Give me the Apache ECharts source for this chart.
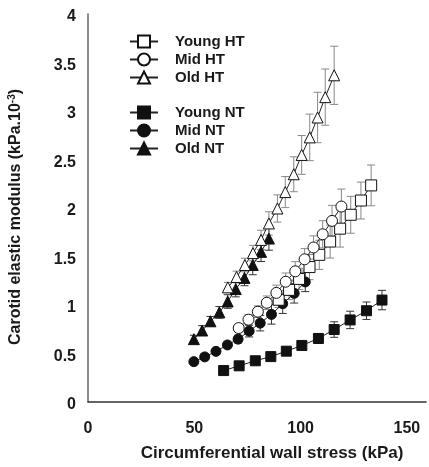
<!DOCTYPE html>
<html><head><meta charset="utf-8">
<script src="https://cdn.jsdelivr.net/npm/echarts@6/dist/echarts.min.js"></script>
<style>html,body{margin:0;padding:0;background:#fff}#c{width:429px;height:467px}</style>
</head><body><div id="c"></div>
<script>
// X tick labels shown
const xTickLabels = [0, 50, 100, 150];

// Young NT
const youngNTx = [63.8, 71.1, 78.7, 86.0, 93.3, 100.6, 108.4, 115.8, 123.3, 131.0, 138.3];
const youngNTy = [0.324, 0.373, 0.425, 0.468, 0.524, 0.583, 0.655, 0.747, 0.846, 0.941, 1.051];
const youngNTe = [0.02, 0.02, 0.02, 0.03, 0.03, 0.04, 0.05, 0.08, 0.09, 0.09, 0.10];

// Mid NT
const midNTx = [49.8, 54.9, 60.2, 65.6, 70.6, 75.8, 81.0, 86.3, 91.6, 97.0, 102.2];
const midNTy = [0.416, 0.465, 0.522, 0.588, 0.648, 0.731, 0.813, 0.903, 1.013, 1.120, 1.238];
const midNTe = [0.02, 0.02, 0.03, 0.03, 0.04, 0.06, 0.08, 0.10, 0.10, 0.10, 0.10];

// Old NT
const oldNTx = [49.8, 53.7, 57.6, 61.8, 65.7, 69.5, 73.6, 77.5, 81.4, 85.1];
const oldNTy = [0.648, 0.737, 0.832, 0.924, 1.036, 1.164, 1.279, 1.412, 1.548, 1.685];
const oldNTe = [0.04, 0.05, 0.05, 0.06, 0.07, 0.08, 0.08, 0.10, 0.10, 0.12];

// Young HT
const youngHTx = [89.7, 94.6, 99.3, 104.2, 108.8, 113.9, 118.6, 123.6, 128.4, 133.2];
const youngHTy = [1.054, 1.156, 1.269, 1.391, 1.517, 1.654, 1.787, 1.930, 2.077, 2.233];
const youngHTe = [0.08, 0.10, 0.11, 0.13, 0.15, 0.17, 0.19, 0.19, 0.19, 0.21];

// Mid HT
const midHTx = [70.9, 75.5, 79.9, 84.1, 88.6, 93.0, 97.5, 101.9, 106.1, 110.4, 114.8, 119.2];
const midHTy = [0.762, 0.849, 0.931, 1.023, 1.125, 1.240, 1.347, 1.471, 1.593, 1.729, 1.867, 2.015];
const midHTe = [0.04, 0.05, 0.06, 0.07, 0.08, 0.09, 0.10, 0.11, 0.12, 0.14, 0.16, 0.18];

// Old HT
const oldHTx = [65.8, 69.9, 73.8, 77.6, 81.4, 85.1, 89.1, 92.8, 96.8, 100.5, 104.3, 108.0, 111.6, 115.8];
const oldHTy = [1.182, 1.289, 1.412, 1.535, 1.671, 1.841, 1.995, 2.164, 2.348, 2.547, 2.728, 2.933, 3.143, 3.368];
const oldHTe = [0.05, 0.06, 0.07, 0.08, 0.10, 0.12, 0.14, 0.16, 0.18, 0.20, 0.24, 0.26, 0.29, 0.30];

const FONT = '"Liberation Sans", Arial, sans-serif';

function pts(xs, ys) { return xs.map((x, i) => [x, ys[i]]); }
function errPts(xs, ys, es) { return xs.map((x, i) => [x, ys[i], es[i]]); }

function errSeries(name, xs, ys, es, color) {
  return {
    name: name, type: 'custom', z: 1, silent: true,
    encode: { x: 0, y: 1 },
    data: errPts(xs, ys, es),
    renderItem: function (params, api) {
      const x = api.value(0), y = api.value(1), e = api.value(2);
      const t = api.coord([x, y + e]);
      const b = api.coord([x, y - e]);
      const w = 4;
      const st = { stroke: color, lineWidth: 1 };
      return {
        type: 'group', children: [
          { type: 'line', shape: { x1: t[0], y1: t[1], x2: b[0], y2: b[1] }, style: st },
          { type: 'line', shape: { x1: t[0] - w, y1: t[1], x2: t[0] + w, y2: t[1] }, style: st },
          { type: 'line', shape: { x1: b[0] - w, y1: b[1], x2: b[0] + w, y2: b[1] }, style: st }
        ]
      };
    }
  };
}

function lineSeries(name, xs, ys, symbol, size, filled, z) {
  return {
    name: name, type: 'line', z: z,
    data: pts(xs, ys),
    symbol: symbol, symbolSize: size, showSymbol: true,
    lineStyle: { color: '#222', width: 1 },
    itemStyle: { color: filled ? '#111' : '#fff', borderColor: '#111', borderWidth: 1 },
    emphasis: { disabled: true },
    animation: false
  };
}

const legendText = { color: '#1a1a1a', fontSize: 15, fontWeight: 'bold', fontFamily: FONT, padding: [0, 0, 0, 12] };

const chart = echarts.init(document.getElementById('c'), null, { renderer: 'canvas' });
chart.setOption({
  animation: false,
  backgroundColor: '#fff',
  grid: { left: 88, right: 0, top: 14, bottom: 62, containLabel: false },
  xAxis: {
    type: 'value', min: 0, max: 159, interval: 50,
    axisLine: { show: true, lineStyle: { color: '#333', width: 1.5 } },
    axisTick: { show: false },
    splitLine: { show: false },
    axisLabel: {
      margin: 19, color: '#1a1a1a', fontSize: 16, fontWeight: 'bold', fontFamily: FONT,
      formatter: function (v) { return xTickLabels.indexOf(v) >= 0 ? String(v) : ''; }
    },
    name: 'Circumferential wall stress (kPa)', nameLocation: 'middle', nameGap: 43,
    nameTextStyle: { color: '#1a1a1a', fontSize: 17, fontWeight: 'bold', fontFamily: FONT, padding: [0, 0, 0, 30] }
  },
  yAxis: {
    type: 'value', min: 0, max: 4, interval: 0.5,
    axisLine: { show: true, lineStyle: { color: '#666', width: 1.5 } },
    axisTick: { show: false },
    splitLine: { show: false },
    axisLabel: { margin: 12, color: '#1a1a1a', fontSize: 16, fontWeight: 'bold', fontFamily: FONT, verticalAlign: 'top', lineHeight: 6 }
  },
  graphic: [{
    type: 'text', x: 16, y: 217, rotation: Math.PI / 2,
    style: {
      text: 'Carotid elastic modulus (kPa.10{sup|-3})',
      fill: '#1a1a1a', font: 'bold 16px ' + FONT,
      align: 'center', verticalAlign: 'middle',
      rich: { sup: { fontSize: 10, fontWeight: 'bold', fontFamily: FONT, verticalAlign: 'top', padding: [0, 0, 7, 0] } }
    }
  }],
  legend: [
    {
      data: ['Young HT', 'Mid HT', 'Old HT'],
      orient: 'vertical', left: 124, top: 29, itemWidth: 28, itemHeight: 15, itemGap: 3,
      textStyle: legendText, selectedMode: false
    },
    {
      data: ['Young NT', 'Mid NT', 'Old NT'],
      orient: 'vertical', left: 124, top: 100, itemWidth: 28, itemHeight: 15, itemGap: 3,
      textStyle: legendText, selectedMode: false
    }
  ],
  series: [
    errSeries('eYoungNT', youngNTx, youngNTy, youngNTe, '#333'),
    errSeries('eMidNT', midNTx, midNTy, midNTe, '#333'),
    errSeries('eOldNT', oldNTx, oldNTy, oldNTe, '#333'),
    errSeries('eYoungHT', youngHTx, youngHTy, youngHTe, '#888'),
    errSeries('eMidHT', midHTx, midHTy, midHTe, '#888'),
    errSeries('eOldHT', oldHTx, oldHTy, oldHTe, '#888'),
    lineSeries('Young NT', youngNTx, youngNTy, 'rect', 10, true, 3),
    lineSeries('Mid NT', midNTx, midNTy, 'circle', 10, true, 3),
    lineSeries('Old NT', oldNTx, oldNTy, 'triangle', 11, true, 3),
    lineSeries('Young HT', youngHTx, youngHTy, 'rect', 11, false, 4),
    lineSeries('Mid HT', midHTx, midHTy, 'circle', 11, false, 4),
    lineSeries('Old HT', oldHTx, oldHTy, 'triangle', 11, false, 4)
  ]
});
</script>
</body></html>
